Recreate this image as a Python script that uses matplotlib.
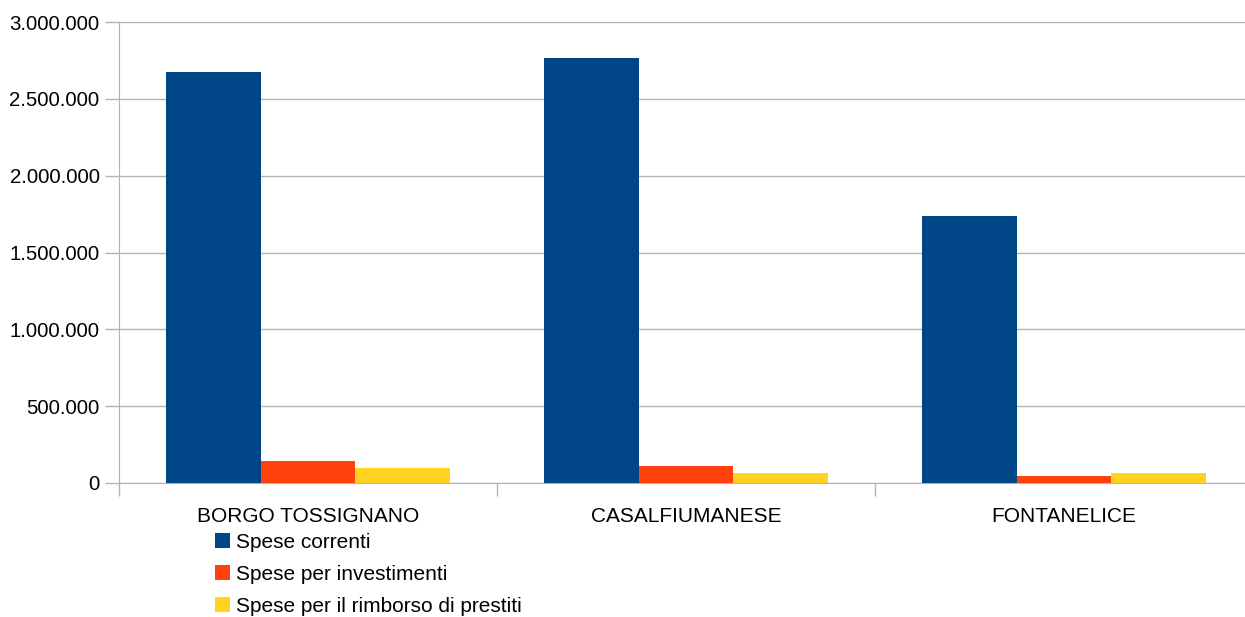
import matplotlib.pyplot as plt
import numpy as np
from matplotlib.ticker import FuncFormatter
from matplotlib.patches import Patch

comuni = ['BORGO TOSSIGNANO', 'CASALFIUMANESE', 'FONTANELICE']
serie = ['Spese correnti', 'Spese per investimenti', 'Spese per il rimborso di prestiti']
spese_correnti = [2675000, 2766000, 1738000]
spese_investimenti = [140000, 108000, 47500]
spese_rimborso = [98000, 65000, 65000]
colori = ['#004586', '#ff420e', '#ffd320']

plt.rcParams['font.family'] = ['Liberation Sans', 'DejaVu Sans']

fig = plt.figure(figsize=(12.45, 6.17), dpi=100)
ax = fig.add_axes([119/1245, 1-483/617, (1253-119)/1245, (483-22)/617])

x = np.arange(len(comuni))
w = 0.25
for i, (vals, c) in enumerate(zip([spese_correnti, spese_investimenti, spese_rimborso], colori)):
    ax.bar(x + (i-1)*w, vals, w, color=c, zorder=3)

ax.set_xlim(-0.5, 2.5)
ax.set_ylim(0, 3000000)
ax.set_yticks(np.arange(0, 3000001, 500000))
ax.yaxis.set_major_formatter(FuncFormatter(lambda v, p: f'{int(v):,}'.replace(',', '.')))
ax.grid(axis='y', color='#b3b3b3', linewidth=1, zorder=0)

ax.set_xticks(x)
ax.set_xticklabels(comuni)
ax.set_xticks([-0.5, 0.5, 1.5, 2.5], minor=True)
ax.tick_params(axis='x', which='major', length=0, pad=17, labelsize=15)
ax.tick_params(axis='x', which='minor', length=9, color='#b3b3b3', width=1)
ax.tick_params(axis='y', length=10, color='#b3b3b3', width=1, labelsize=14.7, pad=4)

for s in ['top', 'right']:
    ax.spines[s].set_visible(False)
ax.spines['left'].set_color('#b3b3b3')
ax.spines['bottom'].set_color('#b3b3b3')

handles = [Patch(facecolor=c) for c in colori]
fig.legend(handles, serie, loc='upper left', bbox_to_anchor=(215/1245, 1-533/617),
           frameon=False, fontsize=15, handlelength=0.7, handleheight=0.7,
           handletextpad=0.3, labelspacing=0.62, borderaxespad=0, borderpad=0)

plt.savefig('out.png', dpi=100)
